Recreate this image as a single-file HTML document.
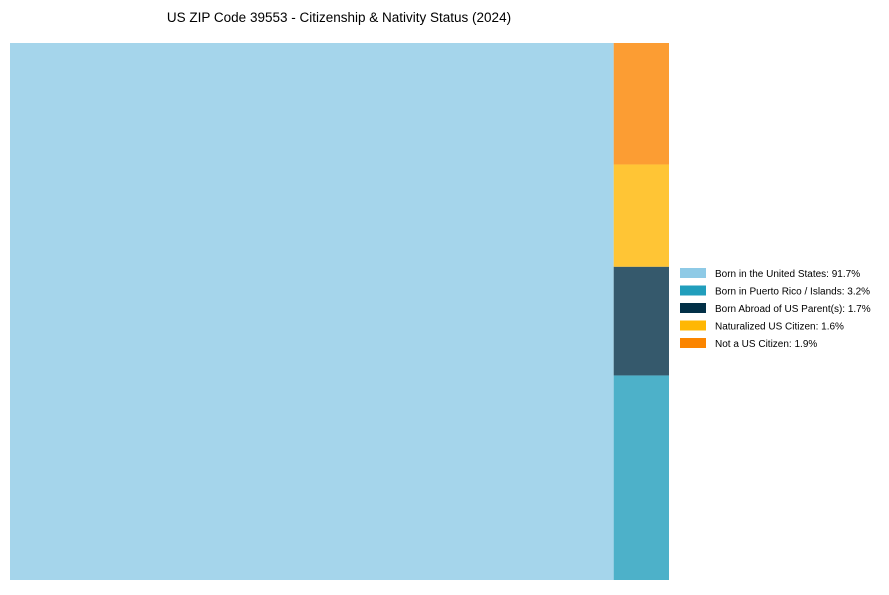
<!DOCTYPE html>
<html><head><meta charset="utf-8"><style>
body{margin:0;background:#fff;width:889px;height:590px;overflow:hidden;font-family:"Liberation Sans",Arial,sans-serif}
</style></head><body>
<svg id="chart" width="889" height="590">
<text x="339" y="22" text-anchor="middle" font-size="13.5" fill="#000">US ZIP Code 39553 - Citizenship &amp; Nativity Status (2024)</text>
<g id="tiles"></g>
<g id="legend"></g>
</svg>
<script>
const categories=["Born in the United States","Born in Puerto Rico / Islands","Born Abroad of US Parent(s)","Naturalized US Citizen","Not a US Citizen"];
const values=[91.7,3.2,1.7,1.6,1.9];
const colors=["#8ecae6","#219ebc","#023047","#ffb703","#fb8500"];
const NS="http://www.w3.org/2000/svg";
const X0=10,Y0=43,W=659,H=537;
const total=values.reduce((a,b)=>a+b,0);
const tiles=document.getElementById('tiles');
function rect(g,x,y,w,h,fill,op,name){
  const r=document.createElementNS(NS,'rect');
  r.setAttribute('x',x);r.setAttribute('y',y);r.setAttribute('width',w);r.setAttribute('height',h);
  r.setAttribute('fill',fill);r.setAttribute('fill-opacity',op);
  
  
  g.appendChild(r);
}
// first tile full height
const w0=W*values[0]/total;
rect(tiles,X0,Y0,w0,H,colors[0],0.8,'tile-born-us');
// remaining stacked from bottom
const rest=values.slice(1).reduce((a,b)=>a+b,0);
let yb=Y0+H;
for(let i=1;i<values.length;i++){
  const h=H*values[i]/rest;
  yb-=h;
  rect(tiles,X0+w0,yb,W-w0,h,colors[i],0.8,'tile-'+i);
}
const lg=document.getElementById('legend');
for(let i=0;i<categories.length;i++){
  const y=268+i*17.5;
  rect(lg,680,y,26,10,colors[i],1,'legend-swatch-'+i);
  const t=document.createElementNS(NS,'text');
  t.setAttribute('x',715);t.setAttribute('y',y+9);t.setAttribute('font-size','10');
  t.textContent=categories[i]+": "+values[i].toFixed(1)+"%";
  
  
  lg.appendChild(t);
}
</script>
</body></html>
